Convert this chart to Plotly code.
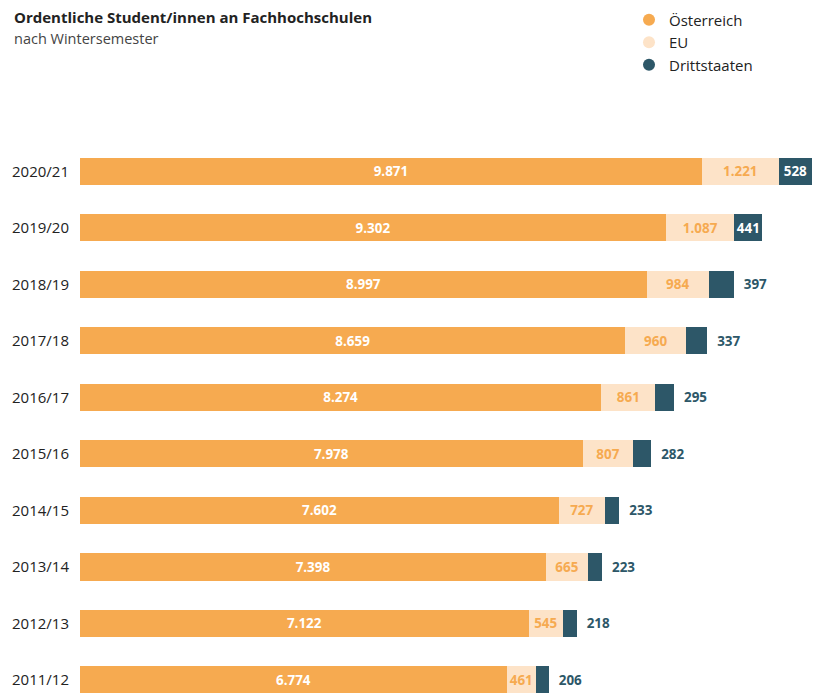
import plotly.graph_objects as go

# Wintersemester, oldest first (bottom to top)
semester = ["2011/12", "2012/13", "2013/14", "2014/15", "2015/16",
            "2016/17", "2017/18", "2018/19", "2019/20", "2020/21"]
oesterreich = [6774, 7122, 7398, 7602, 7978, 8274, 8659, 8997, 9302, 9871]
eu = [461, 545, 665, 727, 807, 861, 960, 984, 1087, 1221]
drittstaaten = [206, 218, 223, 233, 282, 295, 337, 397, 441, 528]

C_AT = "#F6AA50"
C_EU = "#FDE3C8"
C_DS = "#2D5768"
FONT = "Open Sans"

totals = [a + b + c for a, b, c in zip(oesterreich, eu, drittstaaten)]
x_max = max(totals)

# Drittstaaten labels go inside only when the bar is wide enough
ds_pos = ["inside" if v >= 440 else "outside" for v in drittstaaten]
ds_text = ["%s" % v if p == "inside" else "  %s" % v for v, p in zip(drittstaaten, ds_pos)]

fig = go.Figure()
fig.add_trace(go.Bar(
    y=semester, x=oesterreich, orientation="h", name="Österreich",
    marker=dict(color=C_AT, line=dict(width=0)),
    texttemplate="%{x:,}", textposition="inside", insidetextanchor="middle",
    textfont=dict(color="white", size=13.5, family=FONT, weight="bold"),
    showlegend=False, hoverinfo="skip",
))
fig.add_trace(go.Bar(
    y=semester, x=eu, orientation="h", name="EU",
    marker=dict(color=C_EU, line=dict(width=0)),
    texttemplate="%{x:,}", textposition="inside", insidetextanchor="middle",
    textfont=dict(color=C_AT, size=13.5, family=FONT, weight="bold"),
    showlegend=False, hoverinfo="skip",
))
fig.add_trace(go.Bar(
    y=semester, x=drittstaaten, orientation="h", name="Drittstaaten",
    marker=dict(color=C_DS, line=dict(width=0)),
    text=ds_text, textposition=ds_pos, insidetextanchor="middle",
    insidetextfont=dict(color="white", size=13.5, family=FONT, weight="bold"),
    outsidetextfont=dict(color=C_DS, size=13.5, family=FONT, weight="bold"),
    cliponaxis=False, showlegend=False, hoverinfo="skip",
))

# Legend entries with round markers
for name, col in [("Österreich", C_AT), ("EU", C_EU), ("Drittstaaten", C_DS)]:
    fig.add_trace(go.Scatter(
        x=[None], y=[None], mode="markers", name=name,
        marker=dict(color=col, size=15, symbol="circle"),
    ))

fig.update_layout(
    width=814, height=693,
    barmode="stack", bargap=0.52,
    separators=",.",
    uniformtext=dict(minsize=13, mode="show"),
    paper_bgcolor="white", plot_bgcolor="white",
    margin=dict(l=80, r=2, t=143, b=0),
    font=dict(family=FONT, color="#222222", size=14),
    annotations=[
        dict(text="<b>Ordentliche Student/innen an Fachhochschulen</b>",
             xref="paper", yref="paper", x=-0.093, y=1.0 + (143 - 17) / 550,
             xanchor="left", yanchor="middle", showarrow=False,
             font=dict(size=15, color="#222222", family=FONT)),
        dict(text="nach Wintersemester",
             xref="paper", yref="paper", x=-0.093, y=1.0 + (143 - 38) / 550,
             xanchor="left", yanchor="middle", showarrow=False,
             font=dict(size=14.5, color="#444444", family=FONT)),
    ],
    legend=dict(
        x=0.75, xanchor="left", y=0.995, yanchor="top",
        yref="container", traceorder="normal",
        font=dict(size=15, color="#222222", family=FONT),
        itemsizing="constant", tracegroupgap=0,
        bgcolor="rgba(0,0,0,0)",
    ),
    xaxis=dict(range=[0, x_max], visible=False, fixedrange=True),
    yaxis=dict(
        categoryorder="array", categoryarray=semester,
        range=[-0.23, 9.5], showgrid=False, zeroline=False,
        showline=False, ticks="", ticklabelstandoff=10,
        tickfont=dict(size=15, color="#222222", family=FONT),
    ),
)

fig.write_html("out.html")
